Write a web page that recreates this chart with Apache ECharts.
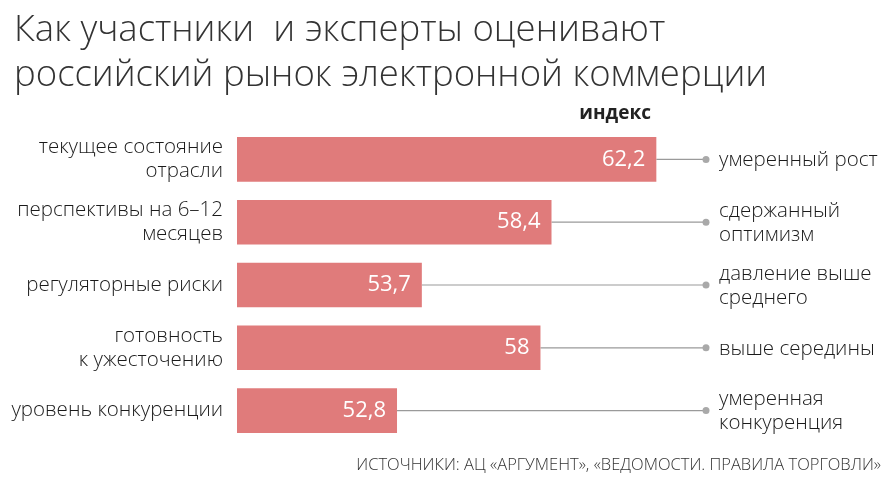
<!DOCTYPE html>
<html><head><meta charset="utf-8">
<script src="https://cdn.jsdelivr.net/npm/echarts@6/dist/echarts.min.js"></script>
<style>html,body{margin:0;padding:0;background:#fff}#c{width:888px;height:487px}</style>
</head><body><div id="c"></div>
<script>
const categories = ['текущее состояние\nотрасли', 'перспективы на 6–12\nмесяцев', 'регуляторные риски', 'готовность\nк ужесточению', 'уровень конкуренции'];
const values = [62.2, 58.4, 53.7, 58, 52.8];
const rightLabels = ['умеренный рост', 'сдержанный\nоптимизм', 'давление выше\nсреднего', 'выше середины', 'умеренная\nконкуренция'];
const axisMin = 47, axisMax = 64;
const FONT = '"Open Sans", "Noto Sans", sans-serif';

const chart = echarts.init(document.getElementById('c'));
chart.setOption({
  animation: false,
  backgroundColor: '#fff',
  title: {
    text: 'Как участники  и эксперты оценивают\nроссийский рынок электронной коммерции',
    left: 9, top: 3,
    textStyle: {fontFamily: FONT, fontWeight: 300, fontSize: 36.5, lineHeight: 45, color: '#333'}
  },
  graphic: [
    {type: 'text', right: 888 - 651, top: 104, style: {text: 'индекс', font: 'bold 19px ' + FONT, fill: '#222'}},
    {type: 'text', right: 7, top: 457, style: {text: 'ИСТОЧНИКИ: АЦ «АРГУМЕНТ», «ВЕДОМОСТИ. ПРАВИЛА ТОРГОВЛИ»', font: '300 16.5px ' + FONT, fill: '#333'}}
  ],
  grid: {left: 237, right: 182, top: 128, bottom: 45},
  xAxis: {type: 'value', min: axisMin, max: axisMax, show: false},
  yAxis: {
    type: 'category', data: categories, inverse: true,
    axisLine: {show: false}, axisTick: {show: false},
    axisLabel: {margin: 14, fontFamily: FONT, fontWeight: 300, fontSize: 20.5, lineHeight: 24, color: '#1a1a1a', align: 'right'}
  },
  series: [
    {
      type: 'custom',
      z: 1,
      renderItem: function (params, api) {
        const idx = api.value(0);
        const v = api.value(1);
        const p0 = api.coord([v, idx]);
        const p1 = api.coord([axisMax, idx]);
        return {
          type: 'group',
          children: [
            {type: 'line', shape: {x1: p0[0], y1: p0[1], x2: p1[0], y2: p1[1]}, style: {stroke: '#9a9a9a', lineWidth: 1.2}},
            {type: 'circle', shape: {cx: p1[0], cy: p1[1], r: 3.5}, style: {fill: '#a9a9a9'}},
            {type: 'text', x: p1[0] + 13, y: p1[1] + 1, style: {text: rightLabels[idx], font: '300 20.5px ' + FONT, lineHeight: 24, fill: '#1a1a1a', verticalAlign: 'middle', align: 'left'}}
          ]
        };
      },
      data: values.map((v, i) => [i, v])
    },
    {
      type: 'bar',
      z: 2,
      data: values,
      barCategoryGap: '29%',
      itemStyle: {color: '#e07b7b'},
      label: {
        show: true, position: 'insideRight', distance: 11,
        formatter: p => String(p.value).replace('.', ','),
        fontFamily: FONT, fontSize: 22, color: '#fff'
      }
    }
  ]
});
</script></body></html>
